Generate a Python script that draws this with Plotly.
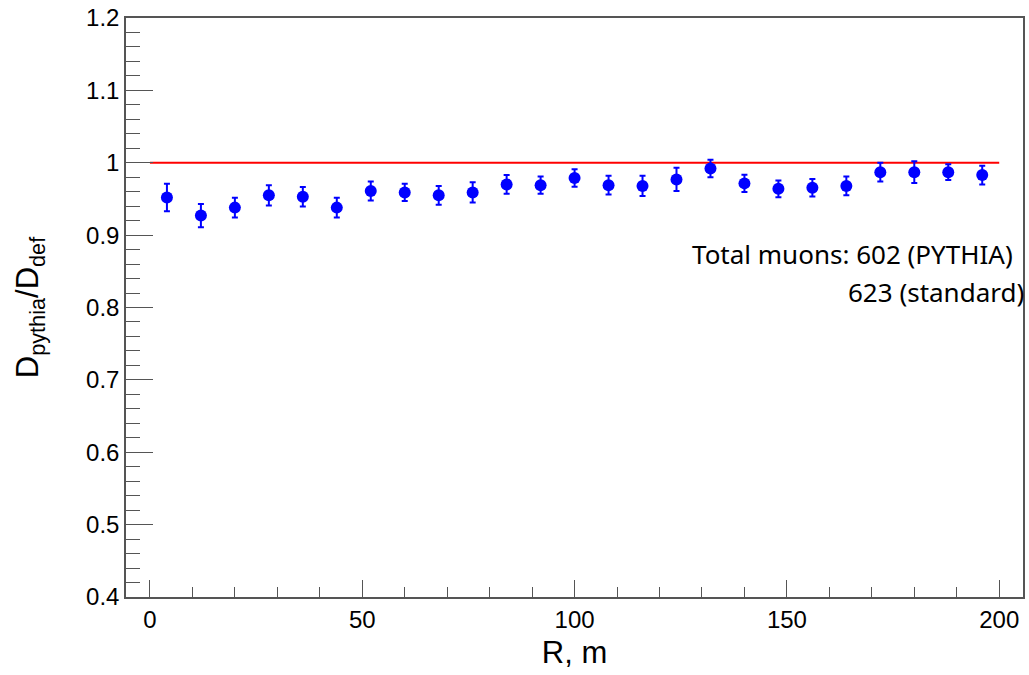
import plotly.graph_objects as go

r_centers = [4, 12, 20, 28, 36, 44, 52, 60, 68, 76, 84, 92, 100, 108, 116, 124,
             132, 140, 148, 156, 164, 172, 180, 188, 196]
ratio = [0.952, 0.927, 0.938, 0.955, 0.953, 0.938, 0.961, 0.959, 0.955, 0.959,
         0.970, 0.969, 0.979, 0.969, 0.968, 0.977, 0.992, 0.9715, 0.964, 0.9655,
         0.968, 0.987, 0.987, 0.987, 0.983]
ratio_err = [0.019, 0.016, 0.0135, 0.014, 0.0135, 0.0135, 0.013, 0.012, 0.013, 0.014,
             0.013, 0.012, 0.012, 0.013, 0.014, 0.016, 0.012, 0.012, 0.0115, 0.012,
             0.013, 0.013, 0.015, 0.011, 0.013]
ref_x = [0, 200]
ref_y = [1, 1]

fig = go.Figure()
fig.add_trace(go.Scatter(x=ref_x, y=ref_y, mode="lines",
                         line=dict(color="#ff0000", width=2), showlegend=False))
fig.add_trace(go.Scatter(
    x=r_centers, y=ratio, mode="markers",
    marker=dict(color="#0000ff", size=12, symbol="circle"),
    error_y=dict(type="data", array=ratio_err, color="#0000ff", thickness=2, width=3),
    showlegend=False))

fam = "Liberation Sans, Arial, sans-serif"
axis_font = dict(family=fam, size=24, color="black")
title_font = dict(family=fam, size=31, color="black")
fig.update_xaxes(range=[-5.64, 205.6], tickmode="linear", tick0=0, dtick=50,
                 ticks="inside", ticklen=17, tickcolor="#555", tickwidth=1,
                 minor=dict(dtick=10, ticks="inside", ticklen=10, tickcolor="#555"),
                 showline=True, linecolor="#555", linewidth=1.5, mirror=True,
                 showgrid=False, zeroline=False, tickfont=axis_font,
                 title=dict(text="R, m", font=title_font, standoff=10))
fig.update_yaxes(range=[0.4, 1.2], tickmode="linear", tick0=0.4, dtick=0.1,
                 ticks="inside", ticklen=27, tickcolor="#555", tickwidth=1,
                 minor=dict(dtick=0.02, ticks="inside", ticklen=14, tickcolor="#555"),
                 showline=True, linecolor="#555", linewidth=1.5, mirror=True,
                 showgrid=False, zeroline=False, tickfont=axis_font,
                 title=dict(text="D<sub>pythia</sub>/D<sub>def</sub>", font=title_font, standoff=38))

ann_font = dict(family="Noto Sans, Open Sans, sans-serif", size=26, color="black")
fig.add_annotation(x=0.991, y=0.593, xref="paper", yref="paper", text="Total muons: 602 (PYTHIA)",
                   showarrow=False, xanchor="right", yanchor="middle", font=ann_font)
fig.add_annotation(x=1.003, y=0.527, xref="paper", yref="paper", text="623 (standard)",
                   showarrow=False, xanchor="right", yanchor="middle", font=ann_font)

fig.update_layout(width=1029, height=675, margin=dict(l=126, r=4, t=15, b=78),
                  paper_bgcolor="white", plot_bgcolor="white")
fig.write_html("out.html")
